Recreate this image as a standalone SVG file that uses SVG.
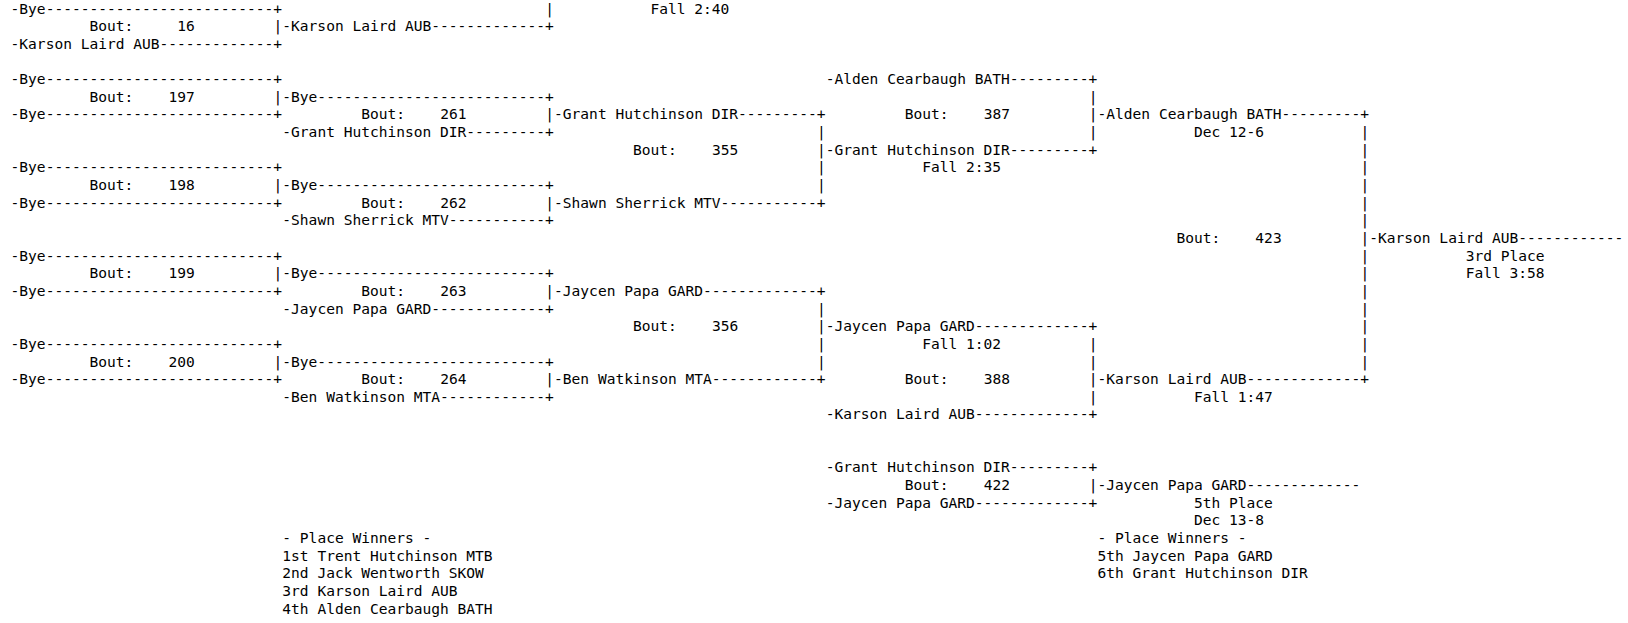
<svg xmlns="http://www.w3.org/2000/svg" width="1628" height="623" viewBox="0 0 1628 623">
<style>
text { font-family: "DejaVu Sans Mono", "Liberation Mono", monospace; font-size: 14.56px; fill: #000; white-space: pre; }
</style>
<rect width="1628" height="623" fill="#fff"/>
<g id="connectors">
<text x="545.33" y="13.5">|</text>
<text x="1088.82" y="101.75">|</text>
<text x="817.07" y="137.05">|</text><text x="1088.82" y="137.05">|</text><text x="1360.56" y="137.05">|</text>
<text x="1360.56" y="154.7">|</text>
<text x="817.07" y="172.35">|</text><text x="1360.56" y="172.35">|</text>
<text x="817.07" y="190">|</text><text x="1360.56" y="190">|</text>
<text x="1360.56" y="207.65">|</text>
<text x="1360.56" y="225.3">|</text>
<text x="1360.56" y="260.6">|</text>
<text x="1360.56" y="278.25">|</text>
<text x="1360.56" y="295.9">|</text>
<text x="817.07" y="313.55">|</text><text x="1360.56" y="313.55">|</text>
<text x="1360.56" y="331.2">|</text>
<text x="817.07" y="348.85">|</text><text x="1088.82" y="348.85">|</text><text x="1360.56" y="348.85">|</text>
<text x="817.07" y="366.5">|</text><text x="1088.82" y="366.5">|</text><text x="1360.56" y="366.5">|</text>
<text x="1088.82" y="401.8">|</text>
</g>
<g id="bout-top">
<text x="650.52" y="13.5">Fall 2:40</text>
</g>
<g id="bout-16">
<text x="10.6" y="13.5">-Bye--------------------------+</text>
<text x="89.49" y="31.15">Bout:</text><text x="177.15" y="31.15">16</text>
<text x="10.6" y="48.8">-Karson Laird AUB-------------+</text>
<text x="273.58" y="31.15">|-Karson Laird AUB-------------+</text>
</g>
<g id="bout-197">
<text x="10.6" y="84.1">-Bye--------------------------+</text>
<text x="89.49" y="101.75">Bout:</text><text x="168.39" y="101.75">197</text>
<text x="10.6" y="119.4">-Bye--------------------------+</text>
<text x="273.58" y="101.75">|-Bye--------------------------+</text>
</g>
<g id="bout-198">
<text x="10.6" y="172.35">-Bye--------------------------+</text>
<text x="89.49" y="190">Bout:</text><text x="168.39" y="190">198</text>
<text x="10.6" y="207.65">-Bye--------------------------+</text>
<text x="273.58" y="190">|-Bye--------------------------+</text>
</g>
<g id="bout-199">
<text x="10.6" y="260.6">-Bye--------------------------+</text>
<text x="89.49" y="278.25">Bout:</text><text x="168.39" y="278.25">199</text>
<text x="10.6" y="295.9">-Bye--------------------------+</text>
<text x="273.58" y="278.25">|-Bye--------------------------+</text>
</g>
<g id="bout-200">
<text x="10.6" y="348.85">-Bye--------------------------+</text>
<text x="89.49" y="366.5">Bout:</text><text x="168.39" y="366.5">200</text>
<text x="10.6" y="384.15">-Bye--------------------------+</text>
<text x="273.58" y="366.5">|-Bye--------------------------+</text>
</g>
<g id="bout-261">
<text x="361.24" y="119.4">Bout:</text><text x="440.13" y="119.4">261</text>
<text x="282.35" y="137.05">-Grant Hutchinson DIR---------+</text>
<text x="545.33" y="119.4">|-Grant Hutchinson DIR---------+</text>
</g>
<g id="bout-262">
<text x="361.24" y="207.65">Bout:</text><text x="440.13" y="207.65">262</text>
<text x="282.35" y="225.3">-Shawn Sherrick MTV-----------+</text>
<text x="545.33" y="207.65">|-Shawn Sherrick MTV-----------+</text>
</g>
<g id="bout-263">
<text x="361.24" y="295.9">Bout:</text><text x="440.13" y="295.9">263</text>
<text x="282.35" y="313.55">-Jaycen Papa GARD-------------+</text>
<text x="545.33" y="295.9">|-Jaycen Papa GARD-------------+</text>
</g>
<g id="bout-264">
<text x="361.24" y="384.15">Bout:</text><text x="440.13" y="384.15">264</text>
<text x="282.35" y="401.8">-Ben Watkinson MTA------------+</text>
<text x="545.33" y="384.15">|-Ben Watkinson MTA------------+</text>
</g>
<g id="bout-355">
<text x="632.99" y="154.7">Bout:</text><text x="711.88" y="154.7">355</text>
<text x="817.07" y="154.7">|-Grant Hutchinson DIR---------+</text>
<text x="922.26" y="172.35">Fall 2:35</text>
</g>
<g id="bout-356">
<text x="632.99" y="331.2">Bout:</text><text x="711.88" y="331.2">356</text>
<text x="817.07" y="331.2">|-Jaycen Papa GARD-------------+</text>
<text x="922.26" y="348.85">Fall 1:02</text>
</g>
<g id="bout-387">
<text x="825.84" y="84.1">-Alden Cearbaugh BATH---------+</text>
<text x="904.73" y="119.4">Bout:</text><text x="983.63" y="119.4">387</text>
<text x="1088.82" y="119.4">|-Alden Cearbaugh BATH---------+</text>
<text x="1194.01" y="137.05">Dec 12-6</text>
</g>
<g id="bout-388">
<text x="904.73" y="384.15">Bout:</text><text x="983.63" y="384.15">388</text>
<text x="1088.82" y="384.15">|-Karson Laird AUB-------------+</text>
<text x="1194.01" y="401.8">Fall 1:47</text>
<text x="825.84" y="419.45">-Karson Laird AUB-------------+</text>
</g>
<g id="bout-423">
<text x="1176.48" y="242.95">Bout:</text><text x="1255.37" y="242.95">423</text>
<text x="1360.56" y="242.95">|-Karson Laird AUB------------</text>
<text x="1465.76" y="260.6">3rd Place</text>
<text x="1465.76" y="278.25">Fall 3:58</text>
</g>
<g id="bout-422">
<text x="825.84" y="472.4">-Grant Hutchinson DIR---------+</text>
<text x="904.73" y="490.05">Bout:</text><text x="983.63" y="490.05">422</text>
<text x="1088.82" y="490.05">|-Jaycen Papa GARD-------------</text>
<text x="825.84" y="507.7">-Jaycen Papa GARD-------------+</text>
<text x="1194.01" y="507.7">5th Place</text>
<text x="1194.01" y="525.35">Dec 13-8</text>
</g>
<g id="place-winners-1-4">
<text x="282.35" y="543">- Place Winners -</text>
<text x="282.35" y="560.65">1st Trent Hutchinson MTB</text>
<text x="282.35" y="578.3">2nd Jack Wentworth SKOW</text>
<text x="282.35" y="595.95">3rd Karson Laird AUB</text>
<text x="282.35" y="613.6">4th Alden Cearbaugh BATH</text>
</g>
<g id="place-winners-5-6">
<text x="1097.58" y="543">- Place Winners -</text>
<text x="1097.58" y="560.65">5th Jaycen Papa GARD</text>
<text x="1097.58" y="578.3">6th Grant Hutchinson DIR</text>
</g>
</svg>
